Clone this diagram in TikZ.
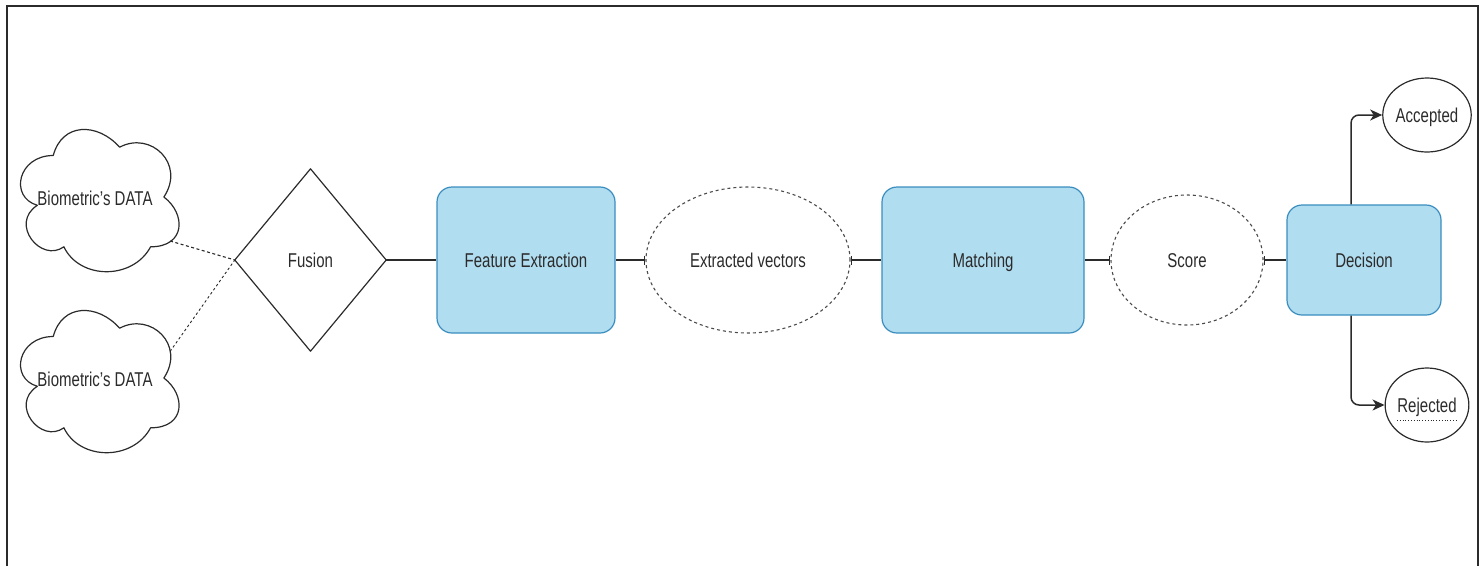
\documentclass[tikz,border=0pt]{standalone}
\usepackage{fontspec}
\setmainfont[FakeStretch=0.75]{Liberation Sans}
\usetikzlibrary{arrows.meta,shapes.geometric,calc}
\definecolor{boxfill}{HTML}{B1DDF0}
\definecolor{boxline}{HTML}{3A8DBE}
\definecolor{ink}{HTML}{2B2B2B}
\tikzset{
  txt/.style={font=\fontsize{20}{24}\selectfont, text=ink, text height=14pt, text depth=0pt},
  procbox/.style={rectangle, rounded corners=15, draw=boxline, fill=boxfill, line width=1.2, txt},
  dataell/.style={ellipse, draw=ink!85, dash pattern=on 3pt off 3pt, line width=1.1, txt, inner sep=0},
  endcircle/.style={ellipse, draw=ink, line width=1.2, txt, inner sep=0},
  cloudline/.style={draw=ink, line width=1.2, line join=round},
  link/.style={draw=ink, line width=1.5},
  dashlink/.style={draw=ink, line width=1.1, dash pattern=on 3pt off 2.5pt},
  bartip/.tip={Bar[width=9pt, line width=1.2pt]},
  arrowlink/.style={link, rounded corners=8, -{Stealth[length=12pt, width=11pt, inset=3.5pt]}},
  framerule/.style={draw=ink, line width=2}
}
\begin{document}
\begin{tikzpicture}[x=1pt, y=-1pt]
  \useasboundingbox (0,0) rectangle (1484,566);
  % outer frame (bottom edge runs off the page)
  \draw[framerule] (6.5,566) -- (6.5,5.5) -- (1478,5.5) -- (1478,566);

  % two biometric input clouds
  \coordinate (c1o) at (9,114);
  \coordinate (c2o) at (9,295);
  \foreach \o/\e/\ey in {c1o/c1e/0.765, c2o/c2e/0.34}{
    \begin{scope}[shift={(\o)}, x=177pt, y=-166pt]
      \draw[cloudline] (0.25,0.25) .. controls (0.05,0.25) and (0,0.5) .. (0.16,0.55)
        .. controls (0,0.66) and (0.18,0.9) .. (0.31,0.8)
        .. controls (0.4,1) and (0.7,1) .. (0.8,0.8)
        .. controls (1,0.8) and (1,0.6) .. (0.875,0.5)
        .. controls (1,0.3) and (0.8,0.1) .. (0.625,0.2)
        .. controls (0.5,0.05) and (0.3,0.05) .. (0.25,0.25) -- cycle;
      \coordinate (\e) at (0.91,\ey);
    \end{scope}
  }
  \node[txt] (d1) at (95,198) {Biometric's DATA};
  \node[txt] (d2) at (95,379) {Biometric's DATA};

  % fusion diamond
  \node[txt, minimum width=151, minimum height=182, inner sep=0] (fu) at (310.5,260) {Fusion};
  \draw[cloudline] (fu.west) -- (fu.north) -- (fu.east) -- (fu.south) -- cycle;

  % processing chain
  \node[procbox, minimum width=178, minimum height=146] (fe) at (526,260) {Feature Extraction};
  \node[dataell, minimum width=204, minimum height=146] (ev) at (748,260) {Extracted vectors};
  \node[procbox, minimum width=202, minimum height=146] (mt) at (983,260) {Matching};
  \node[dataell, minimum width=152, minimum height=130] (sc) at (1187,260) {Score};
  \node[procbox, minimum width=154, minimum height=110] (dc) at (1364,260) {Decision};

  % outcomes
  \node[endcircle, minimum width=77, minimum height=74] (acc) at (1427,115) {Accepted};
  \node[endcircle, minimum width=77, minimum height=74] (rej) at (1427,405) {Rejected};
  \draw[ink, line width=0.8, dotted] ($(rej.center)+(-30,15)$) -- ($(rej.center)+(30,15)$);

  % connectors
  \draw[dashlink] (c1e) -- (fu.west);
  \draw[dashlink, dash pattern=on 2.5pt off 2.5pt, line width=0.9] (c2e) -- (fu.west);
  \draw[link] (fu.east) -- (fe.west);
  \draw[link, -{bartip}] (fe.east) -- (ev.west);
  \draw[link, {bartip}-] (ev.east) -- (mt.west);
  \draw[link, -{bartip}] (mt.east) -- (sc.west);
  \draw[link, {bartip}-] (sc.east) -- (dc.west);
  \draw[arrowlink] ([xshift=-13]dc.north) |- (acc.west);
  \draw[arrowlink] ([xshift=-13]dc.south) |- (rej.west);
\end{tikzpicture}
\end{document}
